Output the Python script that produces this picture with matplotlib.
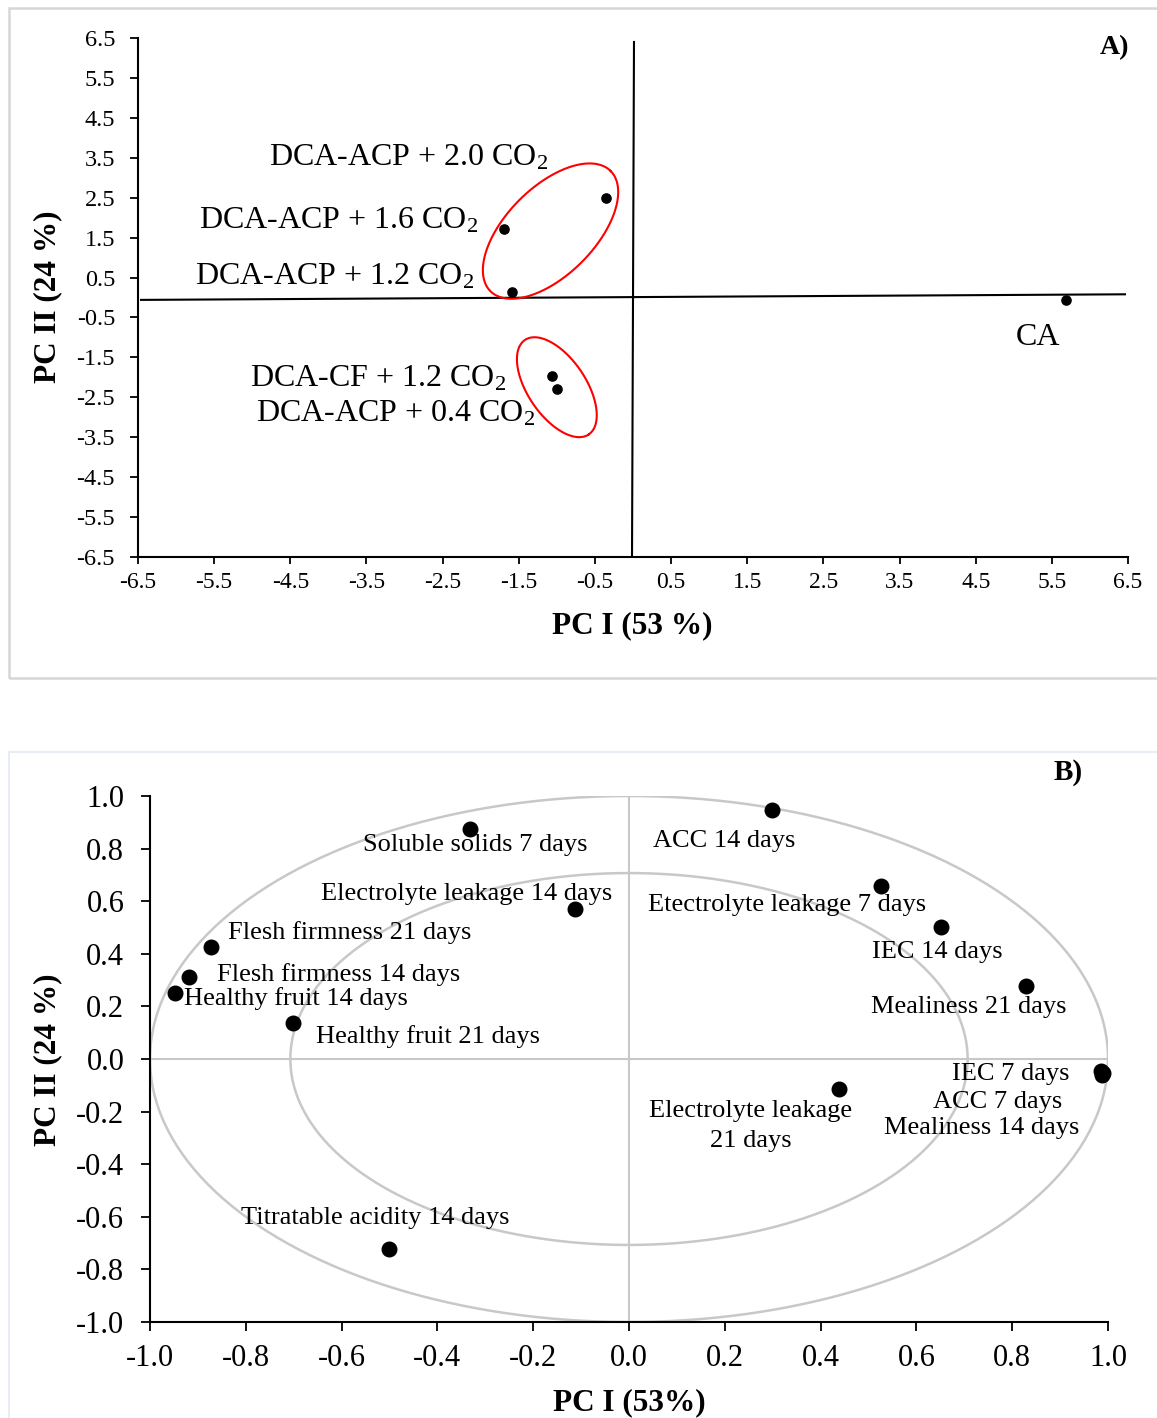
import numpy as np
import matplotlib
matplotlib.use('Agg')
import matplotlib.pyplot as plt
from matplotlib.patches import Rectangle

plt.rcParams['font.family'] = ['Liberation Serif', 'DejaVu Serif']
plt.rcParams['mathtext.fontset'] = 'custom'
plt.rcParams['mathtext.rm'] = 'Liberation Serif'
plt.rcParams['mathtext.it'] = 'Liberation Serif:italic'
plt.rcParams['mathtext.bf'] = 'Liberation Serif:bold'

# ---------------- Panel A data (PCA scores) ----------------
a_labels = ['DCA-ACP + 2.0 CO$_2$', 'DCA-ACP + 1.6 CO$_2$', 'DCA-ACP + 1.2 CO$_2$',
            'DCA-CF + 1.2 CO$_2$', 'DCA-ACP + 0.4 CO$_2$', 'CA']
a_pc1 = [-0.35, -1.69, -1.59, -1.06, -1.00, 5.69]
a_pc2 = [2.49, 1.71, 0.13, -1.97, -2.30, -0.07]
a_ticks = [-6.5, -5.5, -4.5, -3.5, -2.5, -1.5, -0.5, 0.5, 1.5, 2.5, 3.5, 4.5, 5.5, 6.5]
a_ticklabels = ['-6.5', '-5.5', '-4.5', '-3.5', '-2.5', '-1.5', '-0.5',
                '0.5', '1.5', '2.5', '3.5', '4.5', '5.5', '6.5']

# ---------------- Panel B data (loadings) ----------------
b_labels = ['Soluble solids 7 days', 'ACC 14 days', 'Electrolyte leakage 14 days',
            'Etectrolyte leakage 7 days', 'Flesh firmness 21 days', 'IEC 14 days',
            'Flesh firmness 14 days', 'Healthy fruit 14 days', 'Mealiness 21 days',
            'Healthy fruit 21 days', 'Electrolyte leakage\n21 days', 'IEC 7 days',
            'ACC 7 days', 'Mealiness 14 days', 'Titratable acidity 14 days']
b_pc1 = [-0.332, 0.299, -0.113, 0.526, -0.873, 0.651, -0.919, -0.948, 0.829,
         -0.701, 0.438, 0.985, 0.990, 0.988, -0.501]
b_pc2 = [0.875, 0.947, 0.570, 0.658, 0.426, 0.502, 0.312, 0.251, 0.278,
         0.137, -0.114, -0.045, -0.055, -0.060, -0.722]
b_ticks = [-1.0, -0.8, -0.6, -0.4, -0.2, 0.0, 0.2, 0.4, 0.6, 0.8, 1.0]
b_ticklabels = ['-1.0', '-0.8', '-0.6', '-0.4', '-0.2', '0.0', '0.2', '0.4', '0.6', '0.8', '1.0']

# label offsets in pixels (dx, dy; y up)
a_offsets = [(-58, 40, 'right'), (-26, 8, 'right'), (-38, 16, 'right'),
             (-46, -3, 'right'), (-22, -24, 'right'), (-28, -37, 'center')]
b_offsets = [(5, -16), (-48, -31), (-108, 15), (-94, -19), (139, 14), (-4, -25),
             (150, 2), (121, -6), (-57, -21), (135, -14), (-88, -37), (-90, -3),
             (-106, -29), (-121, -53), (-14, 31)]

W, H = 1157, 1418
fig = plt.figure(figsize=(W / 100, H / 100), dpi=100)

# panel frames
fig.patches.append(Rectangle((9 / W, 1 - 678 / H), 1.2, (678 - 8) / H, transform=fig.transFigure,
                             fill=False, edgecolor='#d6d6d6', linewidth=1.8))
fig.patches.append(Rectangle((9 / W, -0.2), 1.2, 0.2 + 1 - 752 / H, transform=fig.transFigure,
                             fill=False, edgecolor='#e8edf5', linewidth=1.5))

# ---------------- Panel A ----------------
axA = fig.add_axes([138 / W, 1 - 557 / H, (1128 - 138) / W, (557 - 38) / H])
axA.set_xlim(-6.5, 6.5)
axA.set_ylim(-6.5, 6.5)
for s in ['top', 'right']:
    axA.spines[s].set_visible(False)
for s in ['left', 'bottom']:
    axA.spines[s].set_linewidth(1.5)
axA.set_xticks(a_ticks)
axA.set_xticklabels(a_ticklabels)
axA.set_yticks(a_ticks)
axA.set_yticklabels(a_ticklabels)
axA.tick_params(axis='y', direction='out', length=5.5, width=1.3, labelsize=17.5, pad=11)
axA.tick_params(axis='x', direction='out', length=5, width=1.3, labelsize=17, pad=6)

# cross lines
axA.plot([-6.46, 6.46], [-0.06, 0.08], color='black', lw=1.5)
axA.plot([0.013, -0.013], [6.4, -6.5], color='black', lw=1.5)

axA.scatter(a_pc1, a_pc2, s=44, color='black', zorder=5)
for x, y, lab, (dx, dy, ha) in zip(a_pc1, a_pc2, a_labels, a_offsets):
    axA.annotate(lab, (x, y), xytext=(dx, dy), textcoords='offset pixels',
                 ha=ha, va='center', fontsize=23)

# red ellipses drawn in display space (pixels) then converted to data
def draw_ellipse(ax, cx, cy, a, b, ang):
    t = np.linspace(0, 2 * np.pi, 300)
    th = np.deg2rad(ang)
    c = ax.transData.transform((cx, cy))
    xs = c[0] + a * np.cos(t) * np.cos(th) - b * np.sin(t) * np.sin(th)
    ys = c[1] + a * np.cos(t) * np.sin(th) + b * np.sin(t) * np.cos(th)
    d = ax.transData.inverted().transform(np.column_stack([xs, ys]))
    ax.plot(d[:, 0], d[:, 1], color='#ff0000', lw=1.5)

draw_ellipse(axA, -1.083, 1.663, 85, 44, 45)
draw_ellipse(axA, -1.00, -2.247, 57, 29, -56)

fig.text(1115 / W, 1 - 48 / H, 'A)', fontsize=20, fontweight='bold', ha='center', va='center')
fig.text(632 / W, 1 - 626 / H, 'PC I (53 %)', fontsize=22.5, fontweight='bold', ha='center', va='center')
fig.text(48 / W, 1 - 297 / H, 'PC II (24 %)', fontsize=22.5, fontweight='bold', ha='center',
         va='center', rotation=90)

# ---------------- Panel B ----------------
axB = fig.add_axes([150 / W, 1 - 1322 / H, (1108 - 150) / W, (1322 - 796) / H])
axB.set_xlim(-1, 1)
axB.set_ylim(-1, 1)
for s in ['top', 'right']:
    axB.spines[s].set_visible(False)
for s in ['left', 'bottom']:
    axB.spines[s].set_linewidth(1.5)
axB.set_xticks(b_ticks)
axB.set_xticklabels(b_ticklabels)
axB.set_yticks(b_ticks)
axB.set_yticklabels(b_ticklabels)
axB.tick_params(axis='y', direction='out', length=6.5, width=1.3, labelsize=22, pad=12)
axB.tick_params(axis='x', direction='out', length=6.5, width=1.3, labelsize=22, pad=9)

tt = np.linspace(0, 2 * np.pi, 400)
gray = '#c8c8c8'
axB.plot(np.cos(tt), np.sin(tt), color=gray, lw=1.8, zorder=1)
axB.plot(0.707 * np.cos(tt), 0.707 * np.sin(tt), color=gray, lw=1.8, zorder=1)
axB.plot([-1, 1], [0, 0], color=gray, lw=1.5, zorder=1)
axB.plot([0, 0], [-1, 1], color=gray, lw=1.5, zorder=1)

axB.scatter(b_pc1, b_pc2, s=110, color='black', zorder=5, clip_on=False)
for x, y, lab, (dx, dy) in zip(b_pc1, b_pc2, b_labels, b_offsets):
    axB.annotate(lab, (x, y), xytext=(dx, dy), textcoords='offset pixels',
                 ha='center', va='center', fontsize=19, linespacing=1.45)

fig.text(1068 / W, 1 - 772 / H, 'B)', fontsize=21, fontweight='bold', ha='center', va='center')
fig.text(629 / W, 1 - 1403 / H, 'PC I (53%)', fontsize=22.5, fontweight='bold', ha='center', va='center')
fig.text(48 / W, 1 - 1060 / H, 'PC II (24 %)', fontsize=22.5, fontweight='bold', ha='center',
         va='center', rotation=90)

fig.savefig('out.png', dpi=100)
